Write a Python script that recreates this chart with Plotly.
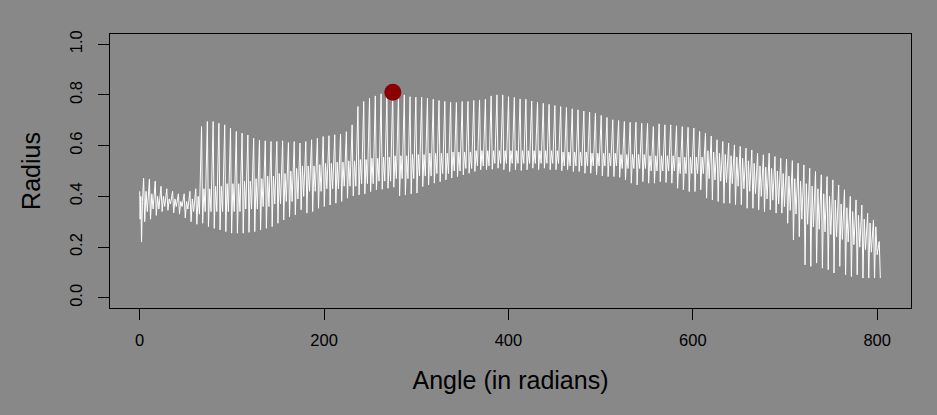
import math
import plotly.graph_objects as go

# ---- data ----
# radius at the start of the curve (before the first full cycle)
start_theta = [0.0, 0.5, 1.2, 2.0, 3.0]
start_r = [0.42, 0.31, 0.40, 0.22, 0.38]

# per-cycle (one cycle = 2*pi radians) readings of the white curve
peak_r = [
    0.472, 0.468, 0.46, 0.44, 0.43, 0.42, 0.41, 0.41, 0.42, 0.43,
    0.675, 0.695, 0.695, 0.688, 0.682, 0.669, 0.656, 0.649, 0.642, 0.629,
    0.622, 0.619, 0.616, 0.616, 0.619, 0.612, 0.616, 0.610,
    0.616, 0.623, 0.629, 0.636, 0.639, 0.643, 0.646, 0.655, 0.682, 0.754,
    0.774, 0.787, 0.796, 0.804, 0.793, 0.810, 0.800, 0.800, 0.793, 0.791,
    0.791, 0.787, 0.783, 0.778, 0.774, 0.771, 0.770, 0.774, 0.774, 0.778,
    0.780, 0.783, 0.796, 0.800,
    0.800, 0.793, 0.790, 0.784, 0.783, 0.776, 0.771, 0.767, 0.763, 0.758,
    0.754, 0.750, 0.745, 0.741, 0.736, 0.732, 0.728, 0.719, 0.711, 0.702,
    0.699, 0.695, 0.692, 0.692, 0.688, 0.688, 0.675, 0.686, 0.682, 0.682,
    0.678, 0.675, 0.672, 0.669, 0.656,
    0.649, 0.638, 0.623, 0.616, 0.610, 0.603, 0.597, 0.590, 0.583, 0.570,
    0.564, 0.570, 0.557, 0.550, 0.547, 0.541, 0.531, 0.524, 0.511, 0.498,
    0.485, 0.478, 0.465, 0.445, 0.426, 0.400, 0.386, 0.366, 0.333, 0.307,
    0.222,
]
trough_r = [
    0.30, 0.31, 0.325, 0.34, 0.345, 0.335, 0.33, 0.315, 0.30, 0.29,
    0.294, 0.281, 0.274, 0.268, 0.261, 0.255, 0.255, 0.255, 0.258, 0.261,
    0.268, 0.274, 0.281, 0.294, 0.307, 0.320, 0.327,
    0.347, 0.334, 0.340, 0.353, 0.360, 0.366, 0.373, 0.380, 0.393, 0.402,
    0.406, 0.410, 0.419, 0.426, 0.428, 0.432, 0.436, 0.402, 0.406, 0.410,
    0.413, 0.439, 0.445, 0.452, 0.458, 0.465, 0.472, 0.478, 0.485, 0.491,
    0.498, 0.505, 0.505, 0.507, 0.511,
    0.505, 0.498, 0.505, 0.502, 0.505, 0.511, 0.505, 0.511, 0.505, 0.505,
    0.501, 0.505, 0.498, 0.498, 0.491, 0.491, 0.485, 0.481, 0.478, 0.478,
    0.475, 0.465, 0.452, 0.445, 0.458, 0.452, 0.452, 0.458, 0.455, 0.452,
    0.432, 0.426, 0.419, 0.419, 0.426,
    0.393, 0.386, 0.380, 0.373, 0.373, 0.367, 0.367, 0.353, 0.353, 0.347,
    0.340, 0.347, 0.334, 0.334, 0.294, 0.228, 0.241, 0.130, 0.124, 0.137,
    0.117, 0.111, 0.098, 0.124, 0.091, 0.084, 0.091, 0.078, 0.078, 0.078,
    0.078,
]
band_hi_r = [
    0.42, 0.41, 0.40, 0.40, 0.39, 0.39, 0.38, 0.38, 0.39, 0.40,
    0.43, 0.43, 0.44, 0.44, 0.45, 0.45, 0.45, 0.46, 0.46, 0.47,
    0.47, 0.48, 0.48, 0.49, 0.49, 0.50, 0.51, 0.52,
    0.52, 0.52, 0.525, 0.53, 0.53, 0.535, 0.535, 0.54, 0.54, 0.545,
    0.545, 0.55, 0.55, 0.555, 0.555, 0.56, 0.56, 0.56, 0.565, 0.565,
    0.565, 0.57, 0.57, 0.57, 0.57, 0.575, 0.575, 0.575, 0.575, 0.58,
    0.58, 0.58, 0.58, 0.58,
    0.58, 0.58, 0.58, 0.58, 0.58, 0.58, 0.58, 0.58, 0.58, 0.58,
    0.575, 0.575, 0.575, 0.575, 0.575, 0.57, 0.57, 0.57, 0.57, 0.57,
    0.565, 0.565, 0.565, 0.565, 0.565, 0.56, 0.56, 0.56, 0.56, 0.56,
    0.555, 0.555, 0.555, 0.555, 0.555,
    0.58, 0.575, 0.57, 0.565, 0.56, 0.555, 0.55, 0.54, 0.53, 0.52,
    0.515, 0.51, 0.50, 0.49, 0.48, 0.47, 0.46, 0.45, 0.44, 0.43,
    0.41, 0.40, 0.385, 0.37, 0.355, 0.34, 0.325, 0.31, 0.295, 0.28,
    0.20,
]
band_lo_r = [
    0.34, 0.35, 0.35, 0.36, 0.37, 0.36, 0.36, 0.35, 0.34, 0.33,
    0.34, 0.34, 0.34, 0.34, 0.34, 0.34, 0.34, 0.35, 0.35, 0.35,
    0.36, 0.36, 0.37, 0.37, 0.38, 0.38, 0.39, 0.40,
    0.42, 0.42, 0.42, 0.43, 0.43, 0.43, 0.44, 0.44, 0.44, 0.45,
    0.45, 0.45, 0.46, 0.46, 0.46, 0.47, 0.47, 0.47, 0.47, 0.48,
    0.48, 0.48, 0.49, 0.49, 0.49, 0.50, 0.50, 0.51, 0.51, 0.52,
    0.52, 0.52, 0.53, 0.53,
    0.53, 0.53, 0.53, 0.53, 0.53, 0.53, 0.53, 0.53, 0.53, 0.53,
    0.52, 0.52, 0.52, 0.52, 0.52, 0.52, 0.52, 0.52, 0.52, 0.52,
    0.51, 0.51, 0.51, 0.51, 0.51, 0.50, 0.50, 0.50, 0.50, 0.50,
    0.49, 0.49, 0.49, 0.49, 0.49,
    0.47, 0.465, 0.46, 0.455, 0.45, 0.44, 0.43, 0.42, 0.41, 0.40,
    0.39, 0.385, 0.37, 0.36, 0.345, 0.33, 0.31, 0.29, 0.28, 0.27,
    0.26, 0.25, 0.24, 0.23, 0.22, 0.21, 0.20, 0.19, 0.18, 0.17,
    0.16,
]

# highlighted maximum point
max_angle = [274.6]
max_radius = [0.81]

x_ticks = [0, 200, 400, 600, 800]
y_ticks = [0.0, 0.2, 0.4, 0.6, 0.8, 1.0]
y_tick_text = ["0.0", "0.2", "0.4", "0.6", "0.8", "1.0"]

# ---- build the curve: each cycle = peak, trough, band-high, band-low ----
PHASE = 0.68
theta = list(start_theta)
radius = list(start_r)
n = len(peak_r)
for k in range(n):
    base = 2 * math.pi * (k + PHASE)
    theta += [base, base + 1.2]
    radius += [peak_r[k], trough_r[k]]
    if k < n - 1:
        theta += [base + 2.6, base + 4.0]
        radius += [band_hi_r[k], band_lo_r[k]]

BG = "#888888"
FONT = "Liberation Sans, Arial, sans-serif"

fig = go.Figure()
fig.add_trace(go.Scatter(
    x=theta, y=radius, mode="lines",
    line=dict(color="white", width=1),
    hoverinfo="skip", showlegend=False,
))
fig.add_trace(go.Scatter(
    x=max_angle, y=max_radius, mode="markers",
    marker=dict(color="#8B0000", size=17, line=dict(width=0)),
    showlegend=False,
))

fig.update_layout(
    width=937, height=415,
    paper_bgcolor=BG, plot_bgcolor=BG,
    margin=dict(l=110, r=26, t=34, b=107, autoexpand=False),
    font=dict(family=FONT, color="black", size=16.5),
    xaxis=dict(
        range=[-32.2, 836.7], tickvals=x_ticks,
        ticks="outside", ticklen=11, tickwidth=1, tickcolor="black",
        ticklabelstandoff=6,
        showgrid=False, zeroline=False,
        showline=True, mirror=True, linecolor="black", linewidth=1,
        tickfont=dict(size=16.5),
        title=dict(text="Angle (in radians)", font=dict(size=25), standoff=23),
    ),
    yaxis=dict(
        range=[-0.04, 1.04], tickvals=y_ticks, ticktext=y_tick_text,
        tickangle=-90,
        ticks="outside", ticklen=11, tickwidth=1, tickcolor="black",
        ticklabelstandoff=9,
        showgrid=False, zeroline=False,
        showline=True, mirror=True, linecolor="black", linewidth=1,
        tickfont=dict(size=16.5),
        title=dict(text="Radius", font=dict(size=25), standoff=19),
    ),
)

fig.write_html(
    "out.html",
    config={"displayModeBar": False},
    post_script="document.body.style.margin='0';"
                "document.body.style.background='#888888';",
)
